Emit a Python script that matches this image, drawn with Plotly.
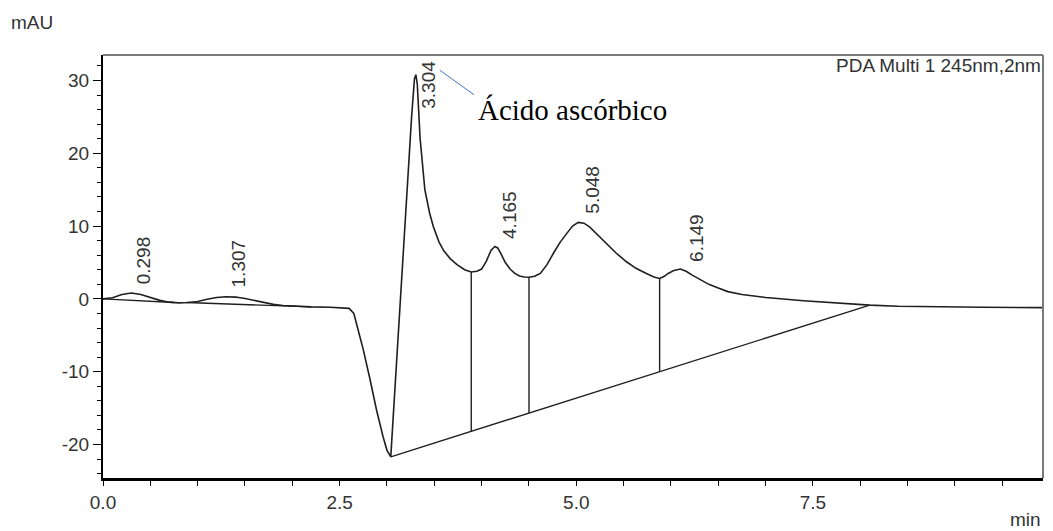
import numpy as np
import plotly.graph_objects as go

# ---- chromatogram signal (min, mAU) ----
time_min = [0.00, 0.10, 0.20, 0.30, 0.40, 0.50, 0.60, 0.70, 0.80, 0.90, 1.00, 1.10, 1.20, 1.30,
            1.40, 1.50, 1.60, 1.70, 1.80, 1.90, 2.00, 2.20, 2.40, 2.55, 2.60, 2.65, 2.70, 2.75,
            2.82, 2.89, 2.96, 3.00, 3.04, 3.10, 3.16, 3.22, 3.26, 3.29, 3.305, 3.32, 3.35, 3.40,
            3.45, 3.49, 3.55, 3.60, 3.67, 3.74, 3.82, 3.89, 3.95, 4.00, 4.05, 4.10, 4.14, 4.17,
            4.20, 4.25, 4.30, 4.35, 4.40, 4.45, 4.50, 4.56, 4.62, 4.69, 4.76, 4.83, 4.90, 4.96,
            5.02, 5.08, 5.14, 5.22, 5.32, 5.42, 5.53, 5.63, 5.74, 5.82, 5.88, 5.93, 5.97, 6.03,
            6.10, 6.16, 6.22, 6.31, 6.40, 6.50, 6.60, 6.75, 7.00, 7.40, 7.80, 8.10, 8.40, 8.80,
            9.30, 9.93]
signal_mAU = [0.0, 0.15, 0.6, 0.8, 0.6, 0.2, -0.2, -0.45, -0.55, -0.5, -0.35, -0.05, 0.2, 0.3,
              0.25, 0.05, -0.25, -0.55, -0.75, -0.9, -1.0, -1.1, -1.15, -1.2, -1.3, -2.0, -4.5, -7.0,
              -11.0, -15.3, -19.0, -20.8, -21.7, -9.5, 3.0, 16.5, 25.0, 30.2, 30.8, 29.5, 22.0, 15.0,
              11.8, 9.9, 7.8, 6.6, 5.5, 4.7, 4.0, 3.7, 3.8, 4.1, 5.2, 6.7, 7.2, 7.0,
              6.3, 5.0, 4.1, 3.5, 3.15, 3.0, 2.97, 3.1, 3.5, 4.7, 6.3, 7.8, 9.0, 10.0,
              10.5, 10.4, 9.9, 8.9, 7.6, 6.3, 5.1, 4.2, 3.5, 3.0, 2.8, 3.1, 3.5, 3.9,
              4.1, 3.8, 3.3, 2.6, 2.0, 1.5, 1.0, 0.6, 0.2, -0.25, -0.6, -0.85, -1.0, -1.1,
              -1.15, -1.2]

# integration baselines (start/end time and value)
base_t0 = [0.00, 0.88, 3.04]
base_v0 = [0.00, -0.50, -21.7]
base_t1 = [0.75, 2.20, 8.10]
base_v1 = [-0.50, -1.10, -0.85]

# perpendicular drop lines (min)
drop_times = [3.89, 4.50, 5.88]

# peak labels
peak_times = [0.298, 1.307, 3.304, 4.165, 5.048, 6.149]
peak_labels = ["0.298", "1.307", "3.304", "4.165", "5.048", "6.149"]

x_ticks = [0.0, 2.5, 5.0, 7.5]
x_ticktext = ["0.0", "2.5", "5.0", "7.5"]
y_ticks = [-20, -10, 0, 10, 20, 30]
y_ticktext = ["-20", "-10", "0", "10", "20", "30"]

LINE = "#1f1f1f"
TXT = "#333333"
SANS = "Liberation Sans, Arial, sans-serif"
FS = 19

fig = go.Figure()
fig.add_trace(go.Scatter(x=time_min, y=signal_mAU, mode="lines",
                         line=dict(color=LINE, width=1.6), hoverinfo="skip", showlegend=False))

for t0, v0, t1, v1 in zip(base_t0, base_v0, base_t1, base_v1):
    fig.add_trace(go.Scatter(x=[t0, t1], y=[v0, v1], mode="lines",
                             line=dict(color=LINE, width=1.4), hoverinfo="skip", showlegend=False))

# main baseline for drop lines
bt0, bv0, bt1, bv1 = base_t0[2], base_v0[2], base_t1[2], base_v1[2]
for t in drop_times:
    top = float(np.interp(t, time_min, signal_mAU))
    bot = bv0 + (t - bt0) / (bt1 - bt0) * (bv1 - bv0)
    fig.add_trace(go.Scatter(x=[t, t], y=[top, bot], mode="lines",
                             line=dict(color=LINE, width=1.4), hoverinfo="skip", showlegend=False))

# peak labels
for t, lab in zip(peak_times, peak_labels):
    v = float(np.interp(t, time_min, signal_mAU))
    if v > 25:
        fig.add_annotation(x=t, y=1, xref="x", yref="paper", text=lab, textangle=-90,
                           showarrow=False, xanchor="center", yanchor="top", xshift=12, yshift=-4,
                           font=dict(family=SANS, size=FS, color=TXT))
    else:
        fig.add_annotation(x=t, y=v, text=lab, textangle=-90, showarrow=False,
                           xanchor="center", yanchor="bottom", xshift=12, yshift=7,
                           font=dict(family=SANS, size=FS, color=TXT))

# compound callout
fig.add_shape(type="line", x0=3.559, y0=31.4, x1=3.919, y1=28.05, xref="x", yref="y",
              line=dict(color="#4472C4", width=1))
fig.add_annotation(x=3.94, y=26.0, text="Ácido ascórbico", showarrow=False,
                   xanchor="left", yanchor="middle",
                   font=dict(family="Liberation Serif, Times New Roman, serif", size=29, color="black"))

fig.add_annotation(x=1, y=0.974, xref="paper", yref="paper", text="PDA Multi 1 245nm,2nm",
                   showarrow=False, xanchor="right", yanchor="middle",
                   font=dict(family=SANS, size=FS, color=TXT))
fig.add_annotation(x=-0.076, y=1.076, xref="paper", yref="paper", text="mAU",
                   showarrow=False, xanchor="center", yanchor="middle",
                   font=dict(family=SANS, size=FS, color=TXT))
fig.add_annotation(x=1, y=-0.098, xref="paper", yref="paper", text="min",
                   showarrow=False, xanchor="right", yanchor="middle",
                   font=dict(family=SANS, size=FS, color=TXT))

# top and right frame (grey)
fig.add_shape(type="line", xref="paper", yref="paper", x0=0, x1=1, y0=1, y1=1,
              line=dict(color="#7a7a7a", width=2))
fig.add_shape(type="line", xref="paper", yref="paper", x0=1, x1=1, y0=0, y1=1,
              line=dict(color="#7a7a7a", width=2))

fig.update_layout(
    width=1053, height=531,
    margin=dict(l=103, r=10, t=55, b=53),
    paper_bgcolor="white", plot_bgcolor="white",
    xaxis=dict(range=[0, 9.93], tickmode="array", tickvals=x_ticks, ticktext=x_ticktext,
               ticks="outside", ticklen=5, tickwidth=1, tickcolor="black",
               showline=True, linecolor="black", linewidth=3, showgrid=False, zeroline=False,
               tickfont=dict(family=SANS, size=FS, color=TXT),
               minor=dict(tickmode="linear", tick0=0, dtick=0.5, ticks="outside", ticklen=5,
                          tickwidth=1, tickcolor="black")),
    yaxis=dict(range=[-24.6, 33.5], tickmode="array", tickvals=y_ticks, ticktext=y_ticktext,
               ticks="outside", ticklen=8, tickwidth=1, tickcolor="black",
               showline=True, linecolor="black", linewidth=2, showgrid=False, zeroline=False,
               tickfont=dict(family=SANS, size=FS, color=TXT),
               minor=dict(tickmode="linear", tick0=0, dtick=2, ticks="outside", ticklen=4,
                          tickwidth=1, tickcolor="black")),
)

fig.write_html("out.html")
